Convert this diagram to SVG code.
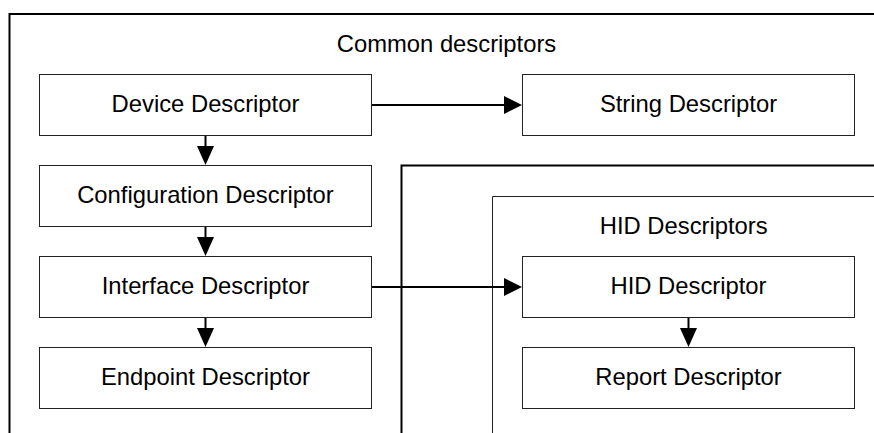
<svg xmlns="http://www.w3.org/2000/svg" width="874" height="433" viewBox="0 0 874 433">
<defs>
<style>
.frame{fill:none;stroke:#000;stroke-width:2}
.frame-thin{fill:none;stroke:#222;stroke-width:1}
.box{fill:#fff;stroke:#222;stroke-width:1}
.lbl{font-family:"Liberation Sans",Arial,sans-serif;font-size:23.8px;fill:#000;text-anchor:middle}
.conn{fill:none;stroke:#000;stroke-width:2}
.head{fill:#000;stroke:none}
</style>
</defs>
<rect x="0" y="0" width="874" height="433" fill="#fff"/>
<g id="common-frame">
<path class="frame" d="M9.5,433 V14 H874"/>
<text class="lbl" x="446.5" y="51.7">Common descriptors</text>
</g>
<g id="class-frame">
<path class="frame" d="M401.5,433 V165.5 H874"/>
</g>
<g id="hid-frame">
<path class="frame-thin" d="M492.5,433 V196.5 H874"/>
<text class="lbl" x="683.7" y="234">HID Descriptors</text>
</g>
<g id="device">
<rect class="box" x="39.5" y="74.5" width="332" height="61"/>
<text class="lbl" x="205.5" y="112">Device Descriptor</text>
</g>
<g id="string">
<rect class="box" x="522.5" y="74.5" width="332" height="61"/>
<text class="lbl" x="688.5" y="112">String Descriptor</text>
</g>
<g id="configuration">
<rect class="box" x="39.5" y="165.5" width="332" height="61"/>
<text class="lbl" x="205.5" y="203">Configuration Descriptor</text>
</g>
<g id="interface">
<rect class="box" x="39.5" y="256.5" width="332" height="61"/>
<text class="lbl" x="205.5" y="294">Interface Descriptor</text>
</g>
<g id="endpoint">
<rect class="box" x="39.5" y="347.5" width="332" height="61"/>
<text class="lbl" x="205.5" y="385">Endpoint Descriptor</text>
</g>
<g id="hid">
<rect class="box" x="522.5" y="256.5" width="332" height="61"/>
<text class="lbl" x="688.5" y="294">HID Descriptor</text>
</g>
<g id="report">
<rect class="box" x="522.5" y="347.5" width="332" height="61"/>
<text class="lbl" x="688.5" y="385">Report Descriptor</text>
</g>
<g id="connectors">
<line class="conn" x1="372" y1="105" x2="506" y2="105"/>
<polygon class="head" points="504,96 522,105 504,114"/>
<line class="conn" x1="372" y1="287" x2="506" y2="287"/>
<polygon class="head" points="504,278 522,287 504,296"/>
<line class="conn" x1="205.5" y1="136" x2="205.5" y2="148"/>
<polygon class="head" points="197,146 214,146 205.5,165"/>
<line class="conn" x1="205.5" y1="227" x2="205.5" y2="239"/>
<polygon class="head" points="197,237 214,237 205.5,256"/>
<line class="conn" x1="205.5" y1="318" x2="205.5" y2="330"/>
<polygon class="head" points="197,328 214,328 205.5,347"/>
<line class="conn" x1="688.5" y1="318" x2="688.5" y2="330"/>
<polygon class="head" points="680,328 697,328 688.5,347"/>
</g>
</svg>
